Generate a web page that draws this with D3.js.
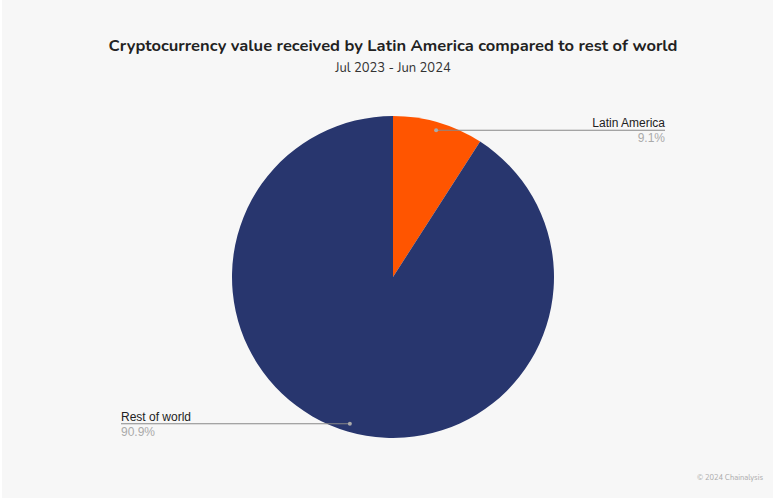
<!DOCTYPE html>
<html><head><meta charset="utf-8">
<script src="https://cdn.jsdelivr.net/npm/d3@7"></script>
<style>html,body{margin:0;padding:0;background:#fff;}svg{display:block;}</style>
</head><body>
<script>
const categories = ["Latin America", "Rest of world"];
const values = [9.1, 90.9];
const labels = ["9.1%", "90.9%"];
const colors = ["#ff5500", "#28366e"];

const W = 773, H = 501;
const svg = d3.select("body").append("svg").attr("width", W).attr("height", H);
svg.append("rect").attr("x", 2).attr("y", 0).attr("width", W - 2).attr("height", H - 3).attr("fill", "#f7f7f7");

svg.append("text").attr("x", 393).attr("y", 51).attr("text-anchor", "middle")
  .attr("font-family", "Nunito, 'Noto Sans', sans-serif").attr("font-weight", 700).attr("font-size", 16.5)
  .attr("fill", "#222").text("Cryptocurrency value received by Latin America compared to rest of world");
svg.append("text").attr("x", 393).attr("y", 72).attr("text-anchor", "middle")
  .attr("font-family", "Nunito, 'Noto Sans', sans-serif").attr("font-size", 13)
  .attr("fill", "#333").text("Jul 2023 - Jun 2024");

const cx = 393, cy = 277, r = 161;
const pie = d3.pie().sort(null).value(d => d);
const arcs = pie(values);
const arc = d3.arc().innerRadius(0).outerRadius(r);
const g = svg.append("g").attr("transform", `translate(${cx},${cy})`);
g.selectAll("path").data(arcs).join("path").attr("d", arc).attr("fill", (d, i) => colors[i]);

// leader points at each slice's mid-angle
const ptArc = d3.arc().innerRadius(r * 0.95).outerRadius(r * 0.95);
const labelSpecs = [
  { x1: 665, anchor: "end" },
  { x1: 121, anchor: "start" }
];
arcs.forEach((a, i) => {
  const spec = labelSpecs[i];
  const [px0, py0] = ptArc.centroid(a);
  const px = cx + px0, py = cy + py0;
  svg.append("line").attr("x1", px).attr("y1", py).attr("x2", spec.x1).attr("y2", py)
    .attr("stroke", "#888").attr("stroke-width", 1.2);
  svg.append("circle").attr("cx", px).attr("cy", py).attr("r", 2).attr("fill", "#aaa");
  svg.append("text").attr("x", spec.x1).attr("y", py - 3).attr("text-anchor", spec.anchor)
    .attr("font-family", "'Liberation Sans', Arial, sans-serif").attr("font-size", 12).attr("fill", "#222").text(categories[i]);
  svg.append("text").attr("x", spec.x1).attr("y", py + 12).attr("text-anchor", spec.anchor)
    .attr("font-family", "'Liberation Sans', Arial, sans-serif").attr("font-size", 12).attr("fill", "#aaa").text(labels[i]);
});

svg.append("text").attr("x", 763).attr("y", 480).attr("text-anchor", "end")
  .attr("font-family", "Nunito, 'Noto Sans', sans-serif").attr("font-size", 7.5)
  .attr("fill", "#aaa").text("© 2024 Chainalysis");
</script>
</body></html>
